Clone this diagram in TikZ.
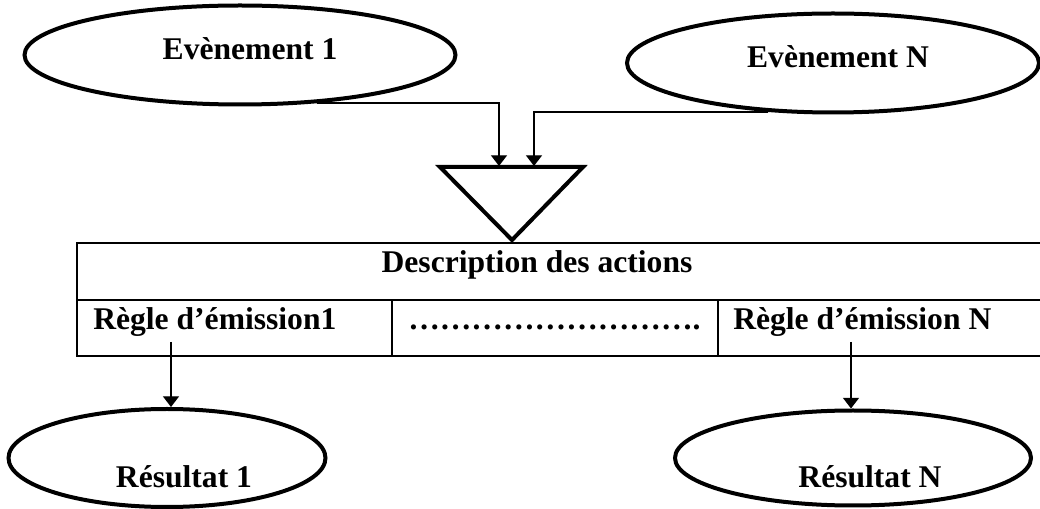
\documentclass[tikz,border=0pt]{standalone}
\usepackage{fontspec}
\setmainfont{Liberation Serif}
\usetikzlibrary{arrows.meta,shapes.geometric}
\begin{document}
\begin{tikzpicture}[x=0.75pt,y=-0.75pt,
  oval/.style={draw,ellipse,line width=3pt,inner sep=0pt},
  lbl/.style={anchor=base,inner sep=0pt,font=\fontsize{23.7}{28}\selectfont\bfseries},
  conn/.style={line width=1pt,-{Triangle[length=8pt,width=12pt]}},
  tbl/.style={line width=1.5pt},
  tri/.style={line width=3pt,line join=miter}]
\useasboundingbox (0,0) rectangle (1040,509);
% events
\node[oval,minimum width=431*0.75pt,minimum height=99*0.75pt] (e1) at (240,55) {};
\node[lbl] (e1t) at (250,60) {Evènement 1};
\node[oval,minimum width=412*0.75pt,minimum height=99*0.75pt] (eN) at (833,63) {};
\node[lbl] (eNt) at (838,68) {Evènement N};
% triangle
\coordinate (tl) at (440,167);
\coordinate (tr) at (583,167);
\coordinate (tb) at (512,240);
\draw[tri] (tl) -- (tr) -- (tb) -- cycle;
\coordinate (in1) at (499,166);
\coordinate (inN) at (534,166);
\draw[conn] (e1.-32) -| (in1);
\draw[conn] (eN.-143) -| (inN);
% table
\coordinate (ta) at (77,243);
\coordinate (tm) at (77,300);
\coordinate (tz) at (77,356);
\coordinate (ra) at (1045,243);
\coordinate (rm) at (1045,300);
\coordinate (rz) at (1045,356);
\coordinate (d1a) at (392,300);
\coordinate (d1z) at (392,356);
\coordinate (d2a) at (718,300);
\coordinate (d2z) at (718,356);
\draw[tbl] (ra) -- (ta) -- (tz) -- (rz);
\draw[tbl] (tm) -- (rm);
\draw[tbl] (d1a) -- (d1z);
\draw[tbl] (d2a) -- (d2z);
\node[lbl] (desc) at (537,273) {Description des actions};
\node[lbl,anchor=base west] (r1t) at (93,330) {Règle d’émission1};
\node[lbl,anchor=base west] (dots) at (408,330) {……………………….};
\node[lbl,anchor=base west] (rNt) at (733,330) {Règle d’émission N};
% results
\node[oval,minimum width=317*0.75pt,minimum height=98*0.75pt] (r1) at (167,458) {};
\node[lbl] (r1r) at (184,488) {Résultat 1};
\node[oval,minimum width=356*0.75pt,minimum height=95*0.75pt] (rN) at (853,458) {};
\node[lbl] (rNr) at (870,488) {Résultat N};
\coordinate (s1) at (171,342);
\coordinate (sN) at (851,342);
\draw[conn] (s1) -- (s1 |- r1.north);
\draw[conn] (sN) -- (sN |- rN.north);
\end{tikzpicture}
\end{document}
